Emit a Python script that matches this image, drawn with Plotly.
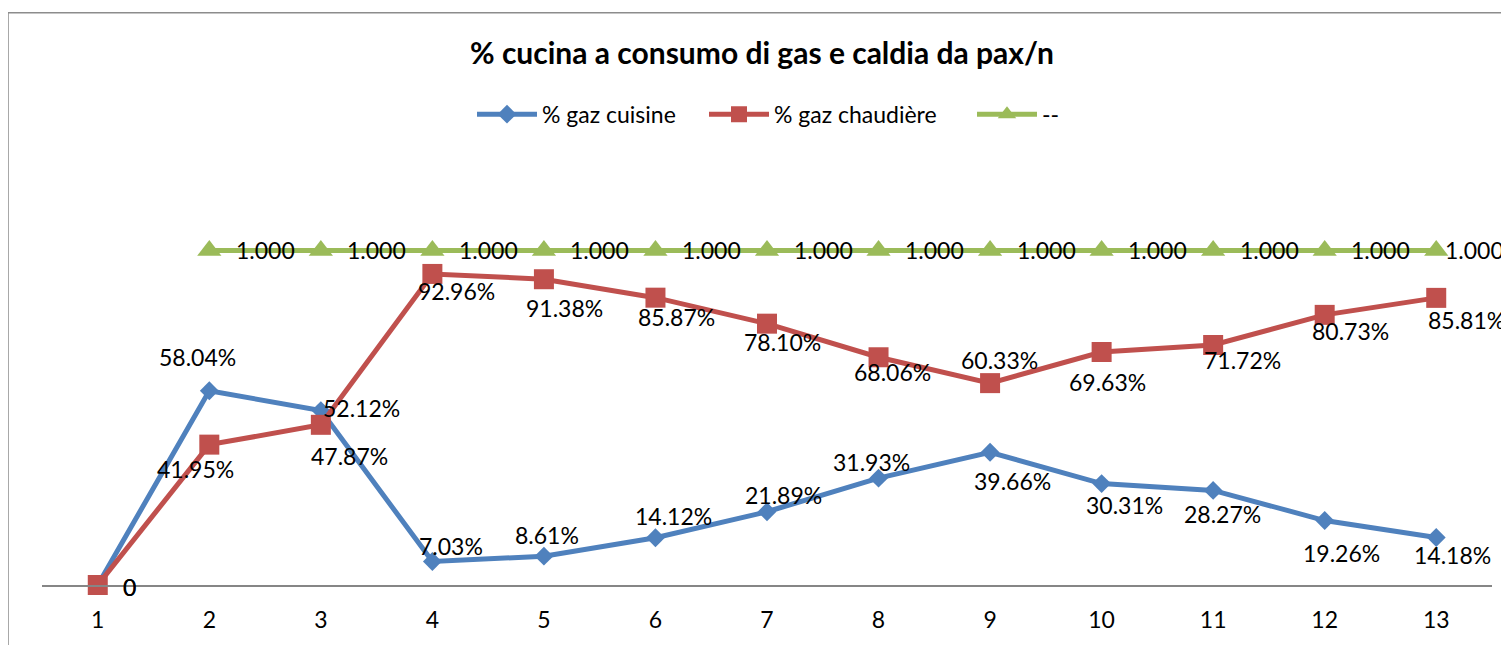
import plotly.graph_objects as go

# ---------------- data ----------------
categories = [1, 2, 3, 4, 5, 6, 7, 8, 9, 10, 11, 12, 13]
cuisine = [0, 0.5804, 0.5212, 0.0703, 0.0861, 0.1412, 0.2189, 0.3193, 0.3966, 0.3031, 0.2827, 0.1926, 0.1418]
chaudiere = [0, 0.4195, 0.4787, 0.9296, 0.9138, 0.8587, 0.7810, 0.6806, 0.6033, 0.6963, 0.7172, 0.8073, 0.8581]
reference = [None, 1.0, 1.0, 1.0, 1.0, 1.0, 1.0, 1.0, 1.0, 1.0, 1.0, 1.0, 1.0]
series_names = ["% gaz cuisine", "% gaz chaudière", "--"]
title_text = "% cucina a consumo di gas e caldia da pax/n"

# ---------------- label placement (pixel offsets, +y = up) ----------------
cuisine_dx = [32, -12, 41, 19, 3, 18, 16, -7, 22, 23, 9, 17, 16]
cuisine_dy = [-2, 34, 3, 15, 21, 22, 17, 16, -29, -21, -24, -32, -17]
chaud_dx = [32, -14, 29, 24, 21, 21, 15, 14, 9, 6, 29, 26, 30]
chaud_dy = [-2, -24, -31, -17, -29, -19, -18, -15, 23, -30, -15, -16, -22]
ref_dx = [0, 56, 56, 56, 56, 56, 56, 56, 56, 56, 56, 56, 38]
ref_dy = [0] * 13

# ---------------- style ----------------
# The page body has an 8px margin, so figure pixel = page pixel - 8
OFF = 8
W, H = 1509 - OFF, 645 - OFF
PLOT_L, PLOT_R, PLOT_T, PLOT_B = 42 - OFF, 1492 - OFF, 150 - OFF, 587.5 - OFF
M_L, M_R, M_T, M_B = PLOT_L, W - PLOT_R, PLOT_T, H - PLOT_B
FONT = "Lato"
BLUE, RED, GREEN = "#4F81BD", "#C0504D", "#9BBB59"
LBL = 23
LW = 5


def pct(v):
    return "0" if v == 0 else f"{v * 100:.2f}%"


plot_w = W - M_L - M_R
plot_h = H - M_T - M_B


def px_to_paper_x(px):
    return (px - OFF - M_L) / plot_w


def px_to_paper_y(py):
    return (H - M_B - (py - OFF)) / plot_h


fig = go.Figure()
fig.add_trace(go.Scatter(
    x=categories, y=cuisine, name=series_names[0], mode="lines+markers",
    line=dict(color=BLUE, width=LW),
    marker=dict(symbol="diamond", size=14.5, color=BLUE),
    cliponaxis=False, legend="legend"))
fig.add_trace(go.Scatter(
    x=categories, y=chaudiere, name=series_names[1], mode="lines+markers",
    line=dict(color=RED, width=LW),
    marker=dict(symbol="square", size=20, color=RED),
    cliponaxis=False, legend="legend2"))
fig.add_trace(go.Scatter(
    x=categories, y=reference, name=series_names[2], mode="lines+markers",
    line=dict(color=GREEN, width=LW),
    marker=dict(symbol="triangle-up", size=21, color=GREEN),
    cliponaxis=False, legend="legend3"))

annotations = []
for vals, dxs, dys, fmt in [
    (cuisine, cuisine_dx, cuisine_dy, pct),
    (chaudiere, chaud_dx, chaud_dy, pct),
    (reference, ref_dx, ref_dy, lambda v: f"{v:.3f}"),
]:
    for x, v, dx, dy in zip(categories, vals, dxs, dys):
        if v is None:
            continue
        annotations.append(dict(
            x=x, y=v, xref="x", yref="y", text=fmt(v), showarrow=False,
            xanchor="center", yanchor="middle", xshift=dx, yshift=dy,
            font=dict(family=FONT, size=LBL, color="#000000")))


def legend_at(px_left):
    return dict(orientation="h", x=px_to_paper_x(px_left), xanchor="left",
                y=px_to_paper_y(114), yanchor="middle",
                font=dict(family=FONT, size=LBL, color="#000000"),
                bgcolor="rgba(0,0,0,0)", itemwidth=60, borderwidth=0)


fig.update_layout(
    width=W, height=H,
    margin=dict(l=M_L, r=M_R, t=M_T, b=M_B, pad=0),
    paper_bgcolor="white", plot_bgcolor="white",
    font=dict(family=FONT, size=LBL, color="#000000"),
    title=dict(text=f"<b>{title_text}</b>", x=(762 - OFF) / W, xref="container", xanchor="center",
               y=1 - (53 - OFF) / H, yref="container", yanchor="middle",
               font=dict(family=FONT, size=30, color="#000000")),
    showlegend=True,
    legend=legend_at(472),
    legend2=legend_at(704),
    legend3=legend_at(972),
    xaxis=dict(range=[0.5, 13.5], tickmode="array", tickvals=categories,
               ticktext=[str(c) for c in categories], showgrid=False, zeroline=False,
               showline=True, linecolor="#868686", linewidth=2, ticks="",
               ticklabelstandoff=13,
               tickfont=dict(family=FONT, size=LBL, color="#000000")),
    yaxis=dict(range=[0, 1.3], visible=False, showgrid=False, zeroline=False),
    annotations=annotations,
    shapes=[dict(type="rect", xref="paper", yref="paper",
                 x0=px_to_paper_x(8), x1=px_to_paper_x(1509 + 20),
                 y0=px_to_paper_y(645 + 20), y1=px_to_paper_y(12),
                 line=dict(color="#8C8C8C", width=1.5), fillcolor="rgba(0,0,0,0)",
                 layer="below")],
)

fig.write_html("out.html")
